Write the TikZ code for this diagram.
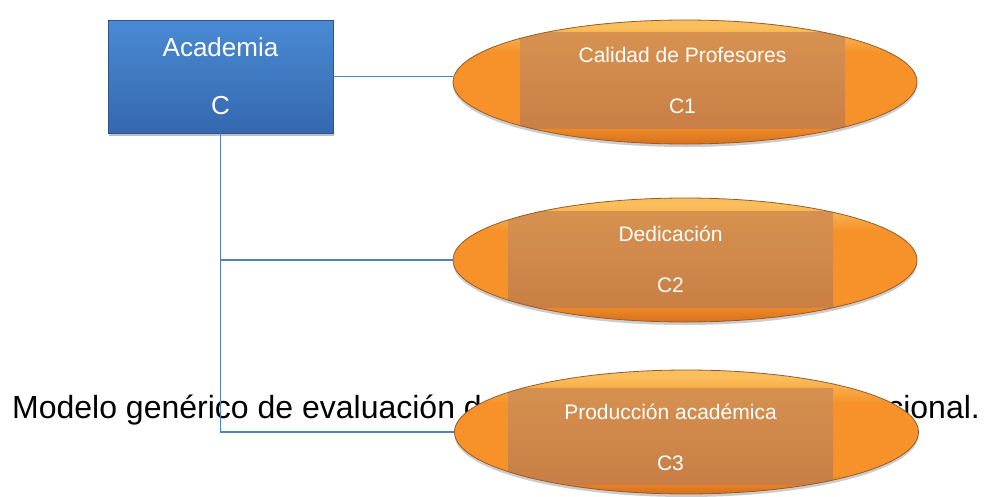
\documentclass[tikz,border=0pt]{standalone}
\usepackage{fontspec}
\setmainfont{Liberation Sans}
\usetikzlibrary{shapes.geometric,shadows}
\definecolor{ovaldark}{RGB}{214,112,30}
\definecolor{ovalbody}{RGB}{247,146,43}
\definecolor{ovallight}{RGB}{250,190,92}
\definecolor{ovaledge}{RGB}{150,92,40}
\definecolor{innertop}{RGB}{216,148,82}
\definecolor{innerbot}{RGB}{199,124,67}
\definecolor{bluetop}{RGB}{74,138,212}
\definecolor{bluebot}{RGB}{52,104,176}
\definecolor{blueedge}{RGB}{45,85,140}
\definecolor{connblue}{RGB}{79,129,189}
\pgfdeclareverticalshading{ovalshade}{100bp}{color(0bp)=(ovaldark); color(25bp)=(ovaldark); color(33bp)=(ovalbody); color(62bp)=(ovalbody); color(72bp)=(ovallight); color(75bp)=(ovallight); color(100bp)=(ovallight)}
\tikzset{
  oval/.style args={#1,#2}{ellipse, minimum width=464pt, minimum height=124pt, inner sep=0pt,
    draw=ovaledge, line width=0.8pt, shading=ovalshade,
    drop shadow={shadow xshift=0pt, shadow yshift=-3pt, fill=black, opacity=0.2},
    path picture={\shade[top color=innertop, bottom color=innerbot]
      ([shift={(#1,#2)}]path picture bounding box.center) +(-162.5pt,-48pt) rectangle +(162.5pt,48pt);}},
  ovaltext/.style={text=white, align=center, font=\fontsize{21}{51}\selectfont, inner sep=0pt},
  blockbox/.style={rectangle, minimum width=225pt, minimum height=113pt, inner sep=0pt,
    top color=bluetop, bottom color=bluebot, draw=blueedge, line width=0.6pt,
    drop shadow={shadow xshift=1pt, shadow yshift=-3pt, fill=black, opacity=0.25},
    text=white, align=center, font=\fontsize{26}{58}\selectfont},
  caption/.style={text=black, font=\fontsize{32}{38}\selectfont, inner sep=0pt},
  conn/.style={draw=connblue, line width=1.4pt}
}
\begin{document}
\begin{tikzpicture}[x=1pt,y=1pt]
\fill[white] (0,0) rectangle (987,-496);
\useasboundingbox (0,0) rectangle (987,-496);
% caption (partly hidden behind the third oval)
\node[caption, anchor=base west] (cap1) at (12,-418) {Modelo genérico de evaluación d};
\node[caption, anchor=base east] (cap2) at (980,-418) {cional.};
% main block
\node[blockbox] (box) at (220.5,-76.5) {Academia\\C};
% ovals
\node[oval={-2.5pt,2pt}] (e1) at (685,-82) {};
\node[oval={-14.5pt,1pt}] (e2) at (685,-260) {};
\node[oval={-16pt,-4.5pt}] (e3) at (686.5,-432) {};
\node[ovaltext] (t1) at (682.5,-80.5) {Calidad de Profesores\\C1};
\node[ovaltext] (t2) at (670.5,-259.5) {Dedicación\\C2};
\node[ovaltext] (t3) at (670.5,-437) {Producción académica\\C3};
% connectors
\draw[conn] (box.east) -- (box.east -| e1.west);
\draw[conn] (box.south |- e2.west) -- (e2.west);
\draw[conn] (box.south) |- (e3.west);
\end{tikzpicture}
\end{document}
